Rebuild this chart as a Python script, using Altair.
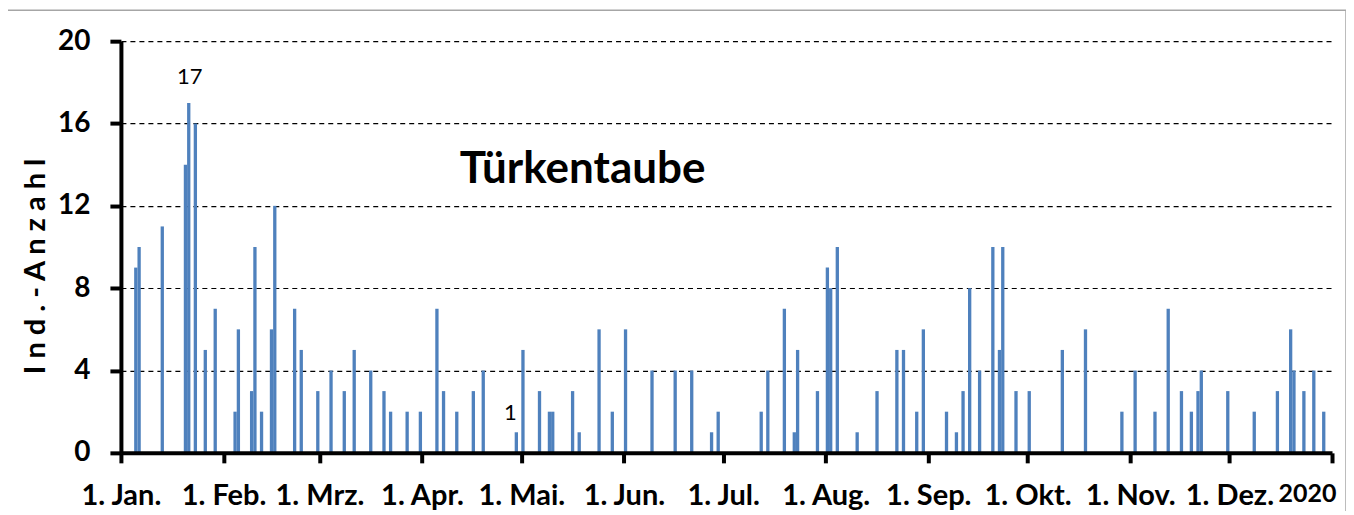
import altair as alt
import pandas as pd

# ---- data (year 2020) ----
dates = [
    "2020-01-05", "2020-01-06", "2020-01-13", "2020-01-20", "2020-01-21", "2020-01-23",
    "2020-01-26", "2020-01-29", "2020-02-04", "2020-02-05", "2020-02-09", "2020-02-10",
    "2020-02-12", "2020-02-15", "2020-02-16", "2020-02-22", "2020-02-24", "2020-02-29",
    "2020-03-04", "2020-03-08", "2020-03-11", "2020-03-16", "2020-03-20", "2020-03-22",
    "2020-03-27", "2020-03-31", "2020-04-05", "2020-04-07", "2020-04-11", "2020-04-16",
    "2020-04-19", "2020-04-29", "2020-05-01", "2020-05-06", "2020-05-09", "2020-05-10",
    "2020-05-16", "2020-05-18", "2020-05-24", "2020-05-28", "2020-06-01", "2020-06-09",
    "2020-06-16", "2020-06-21", "2020-06-27", "2020-06-29", "2020-07-12", "2020-07-14",
    "2020-07-19", "2020-07-22", "2020-07-23", "2020-07-29", "2020-08-01", "2020-08-02",
    "2020-08-04", "2020-08-10", "2020-08-16", "2020-08-22", "2020-08-24", "2020-08-28",
    "2020-08-30", "2020-09-06", "2020-09-09", "2020-09-11", "2020-09-13", "2020-09-16",
    "2020-09-20", "2020-09-22", "2020-09-23", "2020-09-27", "2020-10-01", "2020-10-11",
    "2020-10-18", "2020-10-29", "2020-11-02", "2020-11-08", "2020-11-12", "2020-11-16",
    "2020-11-19", "2020-11-21", "2020-11-22", "2020-11-30", "2020-12-08", "2020-12-15",
    "2020-12-19", "2020-12-20", "2020-12-23", "2020-12-26", "2020-12-29",
]
counts = [
    9, 10, 11, 14, 17, 16,
    5, 7, 2, 6, 3, 10,
    2, 6, 12, 7, 5, 3,
    4, 3, 5, 4, 3, 2,
    2, 2, 7, 3, 2, 3,
    4, 1, 5, 3, 2, 2,
    3, 1, 6, 2, 6, 4,
    4, 4, 1, 2, 2, 4,
    7, 1, 5, 3, 9, 8,
    10, 1, 3, 5, 5, 2,
    6, 2, 1, 3, 8, 4,
    10, 5, 10, 3, 3, 5,
    6, 2, 4, 2, 7, 3,
    2, 3, 4, 3, 2, 3,
    6, 4, 3, 4, 2,
]
month_starts = [
    "2020-01-01", "2020-02-01", "2020-03-01", "2020-04-01", "2020-05-01", "2020-06-01",
    "2020-07-01", "2020-08-01", "2020-09-01", "2020-10-01", "2020-11-01", "2020-12-01",
    "2021-01-01",
]
month_labels = [
    "1. Jan.", "1. Feb.", "1. Mrz.", "1. Apr.", "1. Mai.", "1. Jun.",
    "1. Jul.", "1. Aug.", "1. Sep.", "1. Okt.", "1. Nov.", "1. Dez.", "2020",
]
y_ticks = [0, 4, 8, 12, 16, 20]
chart_title = "Türkentaube"
y_title = "I n d . - A n z a h l"
label_peak_date = "2020-01-21"
label_low_date = "2020-04-29"

# ---- derived tables ----
start = pd.Timestamp("2020-01-01")
df = pd.DataFrame({"d": pd.to_datetime(dates), "count": counts})
df["day"] = (df["d"] - start).dt.days
df["day2"] = df["day"] + 1
df["mid"] = df["day"] + 0.5
df["text"] = df["count"].astype(str)
peak = df[df["d"] == pd.Timestamp(label_peak_date)].drop(columns="d")
low = df[df["d"] == pd.Timestamp(label_low_date)].drop(columns="d")
df = df.drop(columns="d")
tick_days = [(pd.Timestamp(m) - start).days for m in month_starts]
end_day = tick_days[-1]

label_expr = (
    "[" + ",".join("'" + s + "'" for s in month_labels) + "]"
    + "[indexof([" + ",".join(str(t) for t in tick_days) + "], datum.value)]"
)

FONT = "Lato"
x_scale = alt.Scale(domain=[0, end_day], nice=False, zero=False)
y_scale = alt.Scale(domain=[0, 20], nice=False)

x_axis = alt.Axis(
    values=tick_days, labelExpr=label_expr, title=None, grid=False,
    domainColor="black", domainWidth=4, tickColor="black", tickWidth=4, tickSize=10,
    labelFont=FONT, labelFontWeight="bold", labelColor="black",
    labelFontSize=alt.expr(f"datum.value == {end_day} ? 25 : 29"),
    labelPadding=19, labelOverlap=False, labelFlush=False, labelBound=False,
    labelAlign=alt.expr(f"datum.value == {end_day} ? 'right' : 'center'"),
    labelOffset=alt.expr(f"datum.value == {end_day} ? 4 : 0"),
    zindex=1,
)
y_axis = alt.Axis(
    values=y_ticks, title=y_title, grid=True, gridColor="black", gridDash=[5, 4],
    gridWidth=1.2, domainColor="black", domainWidth=4, tickColor="black",
    tickWidth=4, tickSize=11, labelFont=FONT, labelFontWeight="bold",
    labelFontSize=28, labelColor="black", labelPadding=20,
    titleFont=FONT, titleFontWeight="bold", titleFontSize=29, titleColor="black",
    titleAngle=-90, titleX=-85, titleY=225, titleBaseline="middle", titleAlign="center",
)

bars = alt.Chart(df).mark_bar(color="#4F81BD").encode(
    x=alt.X("day:Q", scale=x_scale, axis=x_axis),
    x2="day2:Q",
    y=alt.Y("count:Q", scale=y_scale, axis=y_axis),
    y2=alt.datum(0),
)

peak_label = alt.Chart(peak).mark_text(
    font=FONT, fontSize=22, color="black", baseline="alphabetic", dx=1, dy=-19
).encode(x=alt.X("mid:Q", scale=x_scale), y=alt.Y("count:Q", scale=y_scale), text="text:N")

low_label = alt.Chart(low).mark_text(
    font=FONT, fontSize=22, color="black", baseline="alphabetic", dx=-6, dy=-12
).encode(x=alt.X("mid:Q", scale=x_scale), y=alt.Y("count:Q", scale=y_scale), text="text:N")

one = alt.Data(values=[{"k": 1}])
title_mark = alt.Chart(one).mark_text(
    text=chart_title, font=FONT, fontWeight="bold", fontSize=44, color="black",
    align="center", baseline="alphabetic",
).encode(x=alt.value(462), y=alt.value(142))

border = alt.Chart(one).mark_rect(
    fill="white", fillOpacity=0, stroke="#a6a6a6", strokeWidth=1.5
).encode(x=alt.value(-114), x2=alt.value(1226), y=alt.value(-31), y2=alt.value(480))

chart = alt.layer(border, bars, peak_label, low_label, title_mark).properties(
    width=1212, height=412,
    autosize=alt.AutoSizeParams(type="none"),
    padding={"left": 113, "top": 33, "right": 14, "bottom": 58},
    background="white",
).configure_view(stroke=None)

chart.save("out.html", embed_options={"renderer": "svg", "actions": False})
